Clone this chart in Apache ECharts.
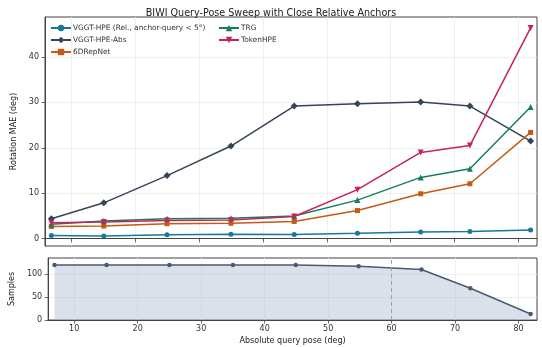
<!DOCTYPE html>
<html>
<head>
<meta charset="utf-8">
<script src="https://cdn.jsdelivr.net/npm/echarts@6/dist/echarts.min.js"></script>
<style>html,body{margin:0;padding:0;background:#fff}#c{width:542px;height:347px}</style>
</head>
<body>
<div id="c"></div>
<script>
const poses = [6.9, 15.1, 25.0, 35.0, 44.9, 54.8, 64.7, 72.4, 81.9];
const vggtRel = [0.7, 0.6, 0.85, 1.0, 0.95, 1.2, 1.5, 1.6, 1.9];
const vggtAbs = [4.4, 7.9, 13.9, 20.4, 29.2, 29.7, 30.1, 29.2, 21.5];
const sixD = [2.7, 2.8, 3.3, 3.4, 3.8, 6.2, 9.9, 12.1, 23.4];
const trg = [3.2, 3.9, 4.4, 4.5, 5.0, 8.5, 13.5, 15.4, 29.0];
const tokenHPE = [3.5, 3.7, 4.0, 4.1, 4.9, 10.8, 19.0, 20.5, 46.4];
const samples = [120, 120, 120, 120, 120, 117, 110, 69, 13];
const xTicks = [10, 20, 30, 40, 50, 60, 70, 80];
const maeTicks = [0, 10, 20, 30, 40];
const sampleTicks = [0, 50, 100];
const refPose = 60;
const names = ['VGGT-HPE (Rel., anchor-query < 5°)', 'VGGT-HPE-Abs', '6DRepNet', 'TRG', 'TokenHPE'];

const font = 'DejaVu Sans';
const pair = arr => poses.map((x, i) => [x, arr[i]]);
const axisLine = {show: true, lineStyle: {color: '#444', width: 1}};
const tick = vals => ({show: true, length: 3.5, lineStyle: {color: '#444', width: 0.8}, customValues: vals});
const split = {show: true, lineStyle: {color: '#ebebeb', width: 0.8}};
const lbl = (vals, extra) => Object.assign({fontFamily: font, fontSize: 8, color: '#333', customValues: vals}, extra || {});

function mk(name, data, color, symbol, size, rotate) {
  return {
    name, type: 'line', xAxisIndex: 0, yAxisIndex: 0, data: pair(data),
    symbol, symbolSize: size, symbolRotate: rotate || 0,
    lineStyle: {color, width: 1.5}, itemStyle: {color},
    emphasis: {disabled: true}, animation: false
  };
}

const legendText = {fontFamily: font, fontSize: 7.4, color: '#333', padding: [0, 0, 0, -3]};
const chart = echarts.init(document.getElementById('c'), null, {renderer: 'canvas'});
chart.setOption({
  animation: false,
  backgroundColor: '#fff',
  title: {text: 'BIWI Query-Pose Sweep with Close Relative Anchors', left: 'center', top: 3,
    textStyle: {fontFamily: font, fontSize: 9.6, fontWeight: 'normal', color: '#222'}},
  legend: [
    {data: names.slice(0, 3), left: 50, top: 24.5, padding: 0, orient: 'vertical', itemWidth: 20, itemHeight: 8, itemGap: 5,
      textStyle: legendText},
    {data: names.slice(3), left: 218, top: 24.5, padding: 0, orient: 'vertical', itemWidth: 20, itemHeight: 8, itemGap: 5,
      textStyle: legendText}
  ],
  grid: [
    {left: 45, top: 17, width: 492, height: 229, show: true, borderColor: '#444', borderWidth: 1, backgroundColor: 'transparent'},
    {left: 45, top: 258, width: 492, height: 62, show: true, borderColor: '#444', borderWidth: 1, backgroundColor: 'transparent'}
  ],
  xAxis: [
    {type: 'value', gridIndex: 0, min: 5.9, max: 82.9, axisLine, axisTick: tick(xTicks), splitLine: split,
      axisLabel: lbl(xTicks, {show: false})},
    {type: 'value', gridIndex: 1, min: 5.9, max: 82.9, axisLine, axisTick: tick(xTicks), splitLine: split,
      axisLabel: lbl(xTicks, {margin: 5}),
      name: 'Absolute query pose (deg)', nameLocation: 'middle', nameGap: 17,
      nameTextStyle: {fontFamily: font, fontSize: 8, color: '#222'}}
  ],
  yAxis: [
    {type: 'value', gridIndex: 0, min: -1.6, max: 48.8, axisLine, axisTick: tick(maeTicks), splitLine: split,
      axisLabel: lbl(maeTicks, {margin: 6}),
      name: 'Rotation MAE (deg)', nameLocation: 'middle', nameGap: 22,
      nameTextStyle: {fontFamily: font, fontSize: 8, color: '#222'}},
    {type: 'value', gridIndex: 1, min: 0, max: 135, axisLine, axisTick: tick(sampleTicks), splitLine: split,
      axisLabel: lbl(sampleTicks, {margin: 6}),
      name: 'Samples', nameLocation: 'middle', nameGap: 27,
      nameTextStyle: {fontFamily: font, fontSize: 8, color: '#222'}}
  ],
  series: [
    mk(names[0], vggtRel, '#17789a', 'circle', 5),
    mk(names[1], vggtAbs, '#36445a', 'diamond', 7),
    mk(names[2], sixD, '#c55a11', 'rect', 5),
    mk(names[3], trg, '#167d62', 'triangle', 6),
    mk(names[4], tokenHPE, '#c8215d', 'triangle', 6, 180),
    {
      name: 'Samples', type: 'line', xAxisIndex: 1, yAxisIndex: 1, data: pair(samples),
      symbol: 'circle', symbolSize: 4.5,
      lineStyle: {color: '#4a5a72', width: 1.5}, itemStyle: {color: '#4a5a72'},
      areaStyle: {color: '#aebdd0', opacity: 0.45},
      emphasis: {disabled: true}, animation: false,
      markLine: {silent: true, symbol: 'none', label: {show: false},
        lineStyle: {color: '#8d9cb8', type: [4, 3], width: 0.9},
        data: [{xAxis: refPose}]}
    }
  ]
});
</script>
</body>
</html>
